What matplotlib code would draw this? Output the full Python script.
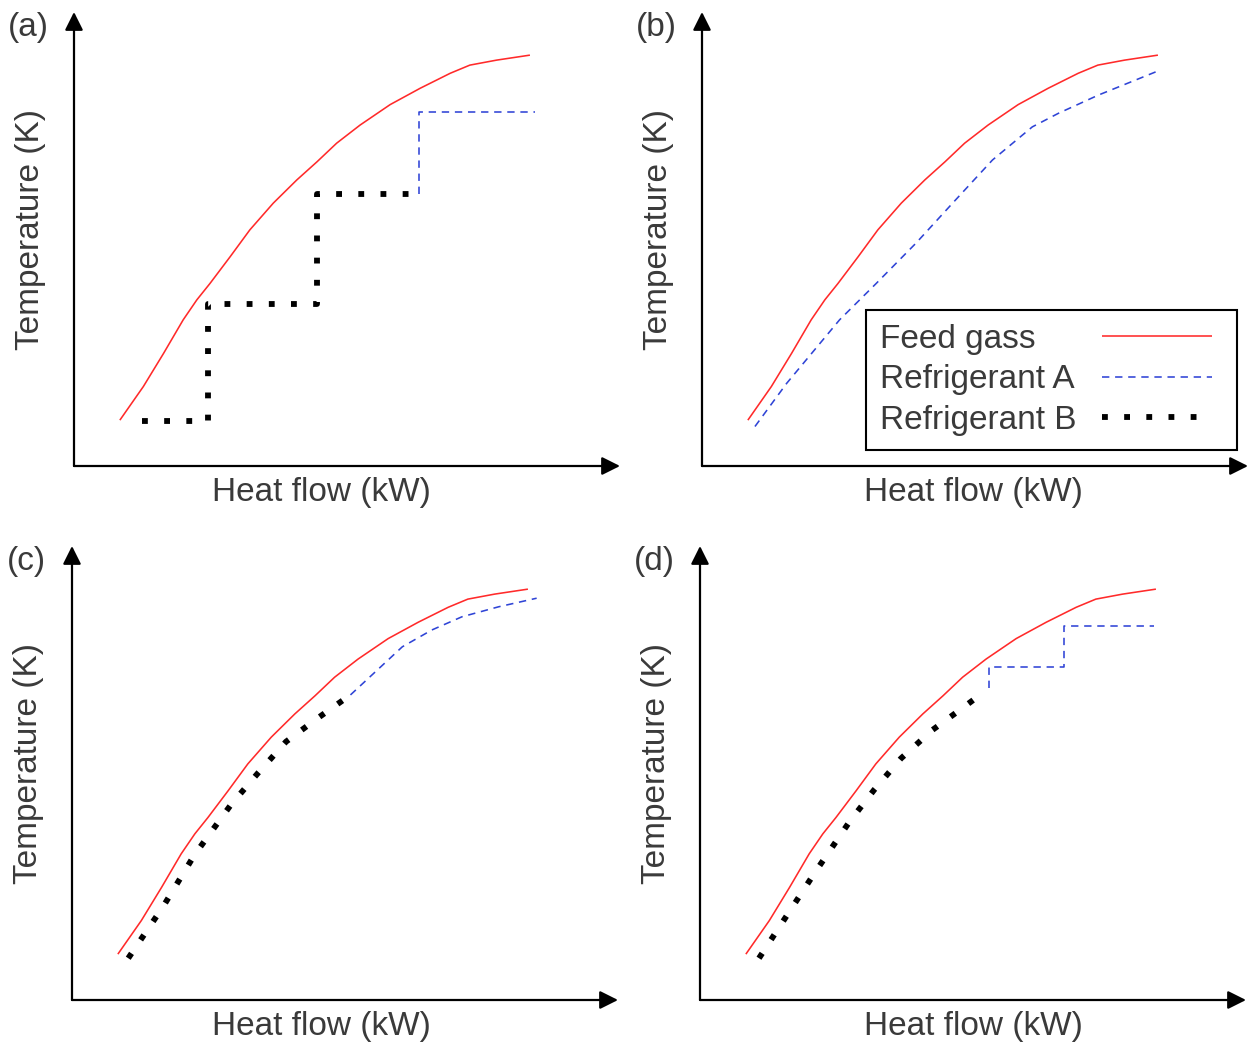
import matplotlib
matplotlib.use("Agg")
import matplotlib.pyplot as plt

plt.rcParams["font.family"] = ["Liberation Sans", "DejaVu Sans"]

# Data (arbitrary units, 0-100 on both axes, no scale shown in the figure)
feed_q = [8.4, 12.7, 16.4, 20.0, 22.5, 24.9, 28.6, 32.2, 36.5, 40.8, 44.5, 48.1,
          52.4, 57.9, 63.4, 68.9, 72.5, 77.4, 83.5]
feed_t = [10.1, 17.5, 24.8, 32.2, 36.6, 40.2, 46.1, 52.0, 57.9, 63.0, 67.0, 71.1,
          75.1, 79.6, 83.2, 86.5, 88.3, 89.4, 90.5]

# (a) stepwise refrigerants
a_refB_q = [12.4, 24.5, 24.5, 44.5, 44.5, 63.1]
a_refB_t = [9.9, 9.9, 35.7, 35.7, 59.9, 59.9]
a_refA_q = [63.1, 63.1, 84.5]
a_refA_t = [59.9, 78.0, 78.0]

# (b) single refrigerant
b_refA_q = [9.7, 15.5, 25.2, 31.9, 39.2, 45.9, 53.2, 60.5, 65.3, 72.6, 83.9]
b_refA_t = [8.7, 18.2, 32.2, 40.2, 49.1, 57.9, 67.4, 74.7, 77.7, 81.7, 87.2]

# (c) mixed refrigerants following the curve
c_refB_q = [10.3, 16.7, 22.4, 29.1, 34.0, 39.2, 44.9, 51.0]
c_refB_t = [9.2, 20.6, 31.9, 43.0, 49.9, 56.9, 62.0, 67.2]
c_refA_q = [51.0, 60.5, 65.9, 71.4, 78.1, 85.1]
c_refA_t = [67.2, 77.8, 81.5, 84.4, 86.6, 88.5]

# (d) curve-following B, stepwise A
d_refB_q = [10.8, 21.0, 27.4, 31.9, 36.8, 42.6, 48.4, 51.4]
d_refB_t = [9.2, 28.0, 39.3, 46.3, 53.2, 59.5, 64.6, 67.3]
d_refA_q = [52.9, 52.9, 66.7, 66.7, 83.2]
d_refA_t = [68.7, 73.3, 73.3, 82.4, 82.4]

panel_names = ["(a)", "(b)", "(c)", "(d)"]
labels = ["Feed gass", "Refrigerant A", "Refrigerant B"]

W, H = 1248, 1046
fig = plt.figure(figsize=(W / 100, H / 100), dpi=100)

RED = "#ff2a2a"
BLUE = "#2f44d6"
TXT = "#3a3a3a"
FS = 24

# panel origins in pixels (left, bottom) and x-label centre
origins = [(74, 466, 321), (702, 466, 973), (72, 1000, 321), (700, 1000, 973)]
aw, ah = 546, 454

axes = []
for (lx, by, xc), name in zip(origins, panel_names):
    ax = fig.add_axes([lx / W, 1 - by / H, aw / W, ah / H])
    ax.set_xlim(0, 100)
    ax.set_ylim(0, 100)
    ax.axis("off")
    arrow = dict(arrowstyle="-|>,head_length=0.5,head_width=0.25", color="black",
                 lw=1.6, mutation_scale=22, shrinkA=0, shrinkB=0)
    ax.annotate("", xy=(1, 0), xytext=(0, 0), xycoords="axes fraction", arrowprops=arrow)
    ax.annotate("", xy=(0, 1), xytext=(0, 0), xycoords="axes fraction", arrowprops=arrow)
    ax.text((xc - lx) / aw, -27 / ah, "Heat flow (kW)", transform=ax.transAxes,
            ha="center", va="center", fontsize=FS, color=TXT)
    ax.text(-43 / aw, 0.52, "Temperature (K)", transform=ax.transAxes, rotation=90,
            ha="center", va="center", fontsize=FS, color=TXT)
    ax.text(-46 / aw, 0.965, name, transform=ax.transAxes,
            ha="center", va="center", fontsize=FS, color=TXT)
    axes.append(ax)

ax_a, ax_b, ax_c, ax_d = axes

red_kw = dict(color=RED, lw=1.15, solid_capstyle="butt", solid_joinstyle="round")
blue_kw = dict(color=BLUE, lw=1.15, dashes=(4.6, 3.6))
black_kw = dict(color="black", lw=4.2, dashes=(1, 2.8), dash_capstyle="butt")

for ax in axes:
    ax.plot(feed_q, feed_t, **red_kw)

ax_a.plot(a_refA_q, a_refA_t, **blue_kw)
lineB = ax_a.plot(a_refB_q, a_refB_t, **black_kw)[0]

lineF = ax_b.plot([], [], **red_kw)[0]
lineA = ax_b.plot(b_refA_q, b_refA_t, **blue_kw)[0]

ax_c.plot(c_refB_q, c_refB_t, **black_kw)
ax_c.plot(c_refA_q, c_refA_t, **blue_kw)

ax_d.plot(d_refB_q, d_refB_t, **black_kw)
ax_d.plot(d_refA_q, d_refA_t, **blue_kw)

# legend: texts on the left, samples on the right
leg = ax_b.legend([lineF, lineA, lineB], labels, loc="upper left",
                  bbox_to_anchor=(866 / W, 1 - 310 / H - 0.01, 371 / W, 0.01),
                  bbox_transform=fig.transFigure, mode="expand", borderaxespad=0,
                  borderpad=0.42, markerfirst=False, fancybox=False, framealpha=1,
                  edgecolor="black", handlelength=3.3, handletextpad=0.75,
                  labelspacing=0.28, fontsize=FS)
leg.get_frame().set_linewidth(1.5)
for t in leg.get_texts():
    t.set_color(TXT)

fig.canvas.draw()
renderer = fig.canvas.get_renderer()
items = leg._legend_handle_box.get_children()[0].get_children()
widths = [it.get_children()[0].get_bbox(renderer).width for it in items]
pt = renderer.points_to_pixels(1.0)
for it, w in zip(items, widths):
    it.sep = 0.75 * FS + (max(widths) - w) / pt

fig.savefig("out.png", dpi=100, facecolor="white")
